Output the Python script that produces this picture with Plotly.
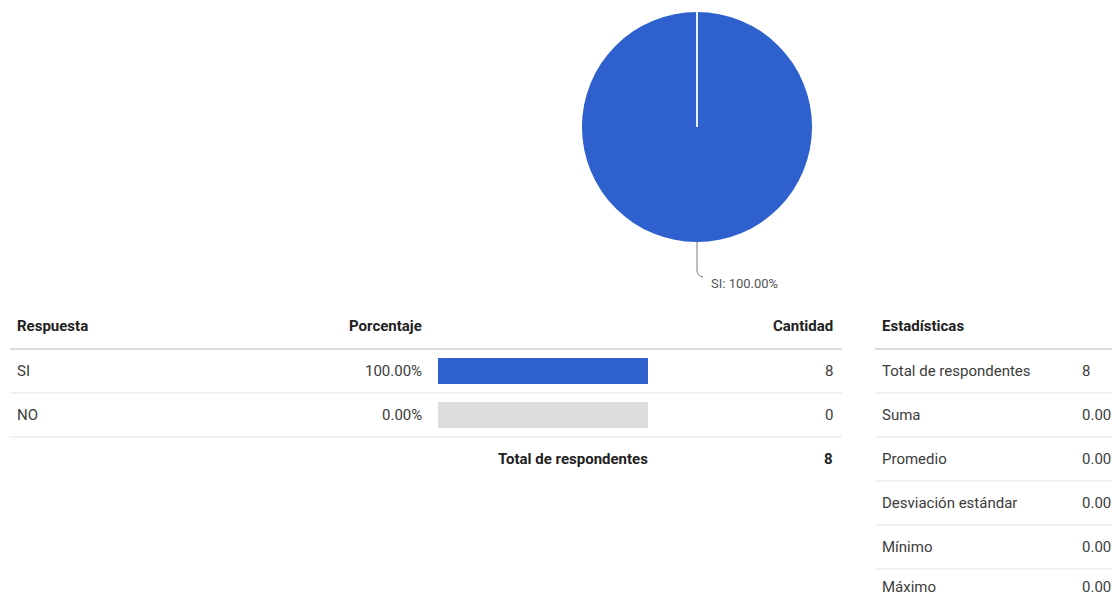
import plotly.graph_objects as go

# ---- data ----
respuestas = ["SI", "NO"]
cantidades = [8, 0]
total_respondentes = sum(cantidades)
porcentajes = [100.0 * c / total_respondentes for c in cantidades]

estadisticas_nombres = ["Total de respondentes", "Suma", "Promedio",
                        "Desviación estándar", "Mínimo", "Máximo"]
estadisticas_valores = ["8", "0.00", "0.00", "0.00", "0.00", "0.00"]

# ---- page geometry ----
W, H = 1112, 598
BLUE = "#2e61cd"
TRACK = "#dcdcdc"
RULE = "#e4e4e4"
HEAD = "#222222"
BODY = "#3c3c3c"
FONT = "Roboto"
FS = 15


def px(x):
    return x / W


def py(y):
    return 1 - y / H


fig = go.Figure()

# pie chart of responses
fig.add_trace(go.Pie(
    labels=respuestas, values=cantidades, sort=False, direction="clockwise",
    rotation=0, textinfo="none", hoverinfo="label+percent",
    marker=dict(colors=[BLUE, TRACK], line=dict(width=0)),
    domain=dict(x=[px(582), px(812)], y=[py(242), py(12)]),
    showlegend=False,
))

# percentage bars: grey track under a blue fill
fig.add_trace(go.Bar(
    x=[100] * len(respuestas), y=list(range(len(respuestas))), orientation="h",
    marker=dict(color=TRACK, line=dict(width=0)), width=0.57,
    hoverinfo="skip", showlegend=False,
))
fig.add_trace(go.Bar(
    x=porcentajes, y=list(range(len(respuestas))), orientation="h",
    marker=dict(color=BLUE, line=dict(width=0)), width=0.57,
    hoverinfo="skip", showlegend=False,
))

ROW0, ROWH = 371, 44   # first data row centre and row pitch (px)

fig.update_layout(
    width=W, height=H, margin=dict(l=0, r=0, t=0, b=0),
    paper_bgcolor="white", plot_bgcolor="rgba(0,0,0,0)",
    barmode="overlay", bargap=0,
    xaxis=dict(domain=[px(438), px(648)], range=[0, 100], visible=False,
               fixedrange=True),
    yaxis=dict(domain=[py(ROW0 + ROWH * (len(respuestas) - 0.5)),
                       py(ROW0 - ROWH * 0.5)],
               range=[len(respuestas) - 0.5, -0.5], visible=False,
               fixedrange=True),
    font=dict(family=FONT, color=BODY, size=FS),
)

shapes = []
annotations = []


def text(x, y, s, anchor="left", bold=False, size=FS, color=None):
    # annotations carry a little inner padding; shift it away
    annotations.append(dict(
        x=px(x), y=py(y), xref="paper", yref="paper", text=s,
        showarrow=False, xanchor=anchor, yanchor="middle", borderpad=0,
        xshift=-1 if anchor == "left" else 1,
        font=dict(family=FONT, size=size,
                  color=color or (HEAD if bold else BODY),
                  weight="bold" if bold else "normal"),
    ))


def rule(x0, x1, y, width=1, color=RULE):
    shapes.append(dict(type="line", xref="paper", yref="paper",
                       x0=px(x0), x1=px(x1), y0=py(y), y1=py(y),
                       line=dict(color=color, width=width)))


# pie decorations: seam line at the start angle and the label leader
cx, cy, r = 697, 127, 115
shapes.append(dict(type="line", xref="paper", yref="paper",
                   x0=px(cx), x1=px(cx), y0=py(cy - r), y1=py(cy),
                   line=dict(color="#e8eef8", width=2)))
shapes.append(dict(type="path", xref="paper", yref="paper",
                   path=(f"M {px(cx)} {py(cy + r)} L {px(cx)} {py(270)} "
                         f"Q {px(cx)} {py(276)} {px(cx + 6)} {py(277)}"),
                   line=dict(color="#7a7a7a", width=1)))
text(711, 283, f"{respuestas[0]}: {porcentajes[0]:.2f}%", size=13, color="#555555")

# response table
HEADER_Y = 326
text(17, HEADER_Y, "Respuesta", bold=True)
text(422, HEADER_Y, "Porcentaje", anchor="right", bold=True)
text(833, HEADER_Y, "Cantidad", anchor="right", bold=True)
rule(10, 842, 349, width=2, color="#dadada")
for i, (resp, pct, cnt) in enumerate(zip(respuestas, porcentajes, cantidades)):
    yc = ROW0 + ROWH * i
    text(17, yc, resp)
    text(422, yc, f"{pct:.2f}%", anchor="right")
    text(833, yc, str(cnt), anchor="right")
    rule(10, 842, yc + 22)
yt = ROW0 + ROWH * len(respuestas)
text(648, yt, "Total de respondentes", anchor="right", bold=True)
text(833, yt, str(total_respondentes), anchor="right", bold=True)

# statistics table (the last row sits right against the page bottom)
text(882, HEADER_Y, "Estadísticas", bold=True)
rule(875, W, 349, width=2, color="#dadada")
n_est = len(estadisticas_nombres)
for i, (nombre, valor) in enumerate(zip(estadisticas_nombres, estadisticas_valores)):
    yc = min(ROW0 + ROWH * i, H - 11)
    text(882, yc, nombre)
    text(1082, yc, valor)
    if i < n_est - 1:
        rule(875, W, ROW0 + ROWH * i + 22)

fig.update_layout(shapes=shapes, annotations=annotations)
fig.write_html("out.html")
